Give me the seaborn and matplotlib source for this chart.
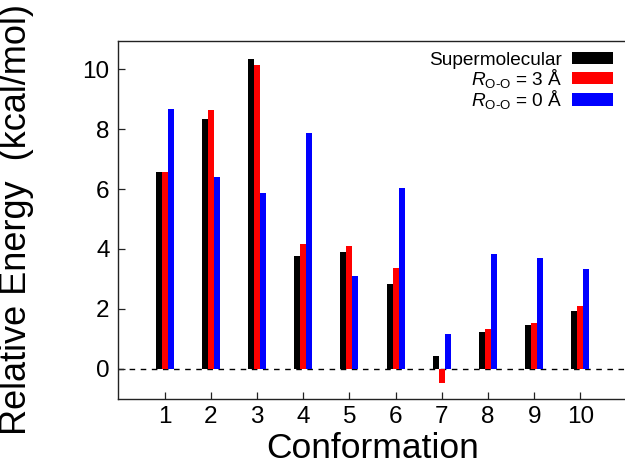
import matplotlib
matplotlib.use("Agg")
import matplotlib.pyplot as plt
import numpy as np
import pandas as pd
import seaborn as sns
from matplotlib.patches import Patch

# Relative energies (kcal/mol) of the ten conformations
conformations = [1, 2, 3, 4, 5, 6, 7, 8, 9, 10]
supermolecular = [6.58, 8.34, 10.34, 3.77, 3.89, 2.83, 0.43, 1.23, 1.47, 1.92]
r_oo_3 = [6.58, 8.65, 10.14, 4.18, 4.10, 3.37, -0.46, 1.33, 1.52, 2.10]
r_oo_0 = [8.66, 6.40, 5.88, 7.87, 3.10, 6.02, 1.17, 3.83, 3.70, 3.34]

series_labels = [
    "Supermolecular",
    r"$R_{\mathrm{O\text{-}O}}$ = 3 Å",
    r"$R_{\mathrm{O\text{-}O}}$ = 0 Å",
]
series_colors = ["#000000", "#ff0000", "#0000ff"]
y_ticks = [0, 2, 4, 6, 8, 10]

sns.set_theme(style="ticks")
plt.rcParams["font.family"] = ["Liberation Sans", "DejaVu Sans"]
plt.rcParams["mathtext.fontset"] = "custom"
plt.rcParams["mathtext.rm"] = "Liberation Sans"
plt.rcParams["mathtext.it"] = "Liberation Sans:italic"
plt.rcParams["mathtext.bf"] = "Liberation Sans:bold"
for key in ["text.color", "axes.labelcolor", "xtick.color", "ytick.color",
            "axes.edgecolor"]:
    plt.rcParams[key] = "black"

frames = []
for label, values in zip(series_labels, [supermolecular, r_oo_3, r_oo_0]):
    frames.append(pd.DataFrame({"conformation": conformations,
                                "energy": values,
                                "method": label}))
df = pd.concat(frames, ignore_index=True)

fig = plt.figure(figsize=(6.25, 4.66), dpi=100)
ax = fig.add_axes([0.1893, 0.1444, 0.8134, 0.7682])

ax.axhline(0, color="black", lw=1.0, ls=(0, (4, 4)), zorder=0)

sns.barplot(data=df, x="conformation", y="energy", hue="method",
            hue_order=series_labels, palette=series_colors,
            native_scale=True, width=0.39, gap=0, linewidth=0,
            saturation=1, errorbar=None, legend=False, ax=ax)

ax.set_xlim(0, 11)
ax.set_ylim(-1, 10.95)
ax.set_xticks(conformations)
ax.set_xticklabels([str(c) for c in conformations])
ax.set_yticks(y_ticks)
ax.set_yticklabels([str(t) for t in y_ticks])

for side in ["left", "bottom", "top", "right"]:
    ax.spines[side].set_visible(True)
    ax.spines[side].set_color("#222222")
    ax.spines[side].set_linewidth(1.0)

ax.tick_params(axis="both", direction="in", length=5, width=0.9,
               colors="#222222", labelcolor="black", labelsize=17.5)
ax.tick_params(axis="x", pad=5)
ax.tick_params(axis="y", pad=6.3)

ax.set_xlabel("Conformation", fontsize=25.5, va="top")
ax.set_ylabel("Relative Energy  (kcal/mol)", fontsize=26)
ax.xaxis.set_label_coords(0.5, -0.094)
ax.yaxis.set_label_coords(-0.165, 0.5)

handles = [Patch(facecolor=c, edgecolor="none") for c in series_colors]
ax.legend(handles, series_labels, loc="upper right",
          bbox_to_anchor=(612.7 / 625, (466 - 52) / 466),
          bbox_transform=fig.transFigure, frameon=False,
          markerfirst=False, fontsize=13.7, handlelength=2.15,
          handleheight=0.6, handletextpad=0.5, labelspacing=-0.1,
          borderpad=0, borderaxespad=0, labelcolor="black")

fig.savefig("out.png", dpi=100)
